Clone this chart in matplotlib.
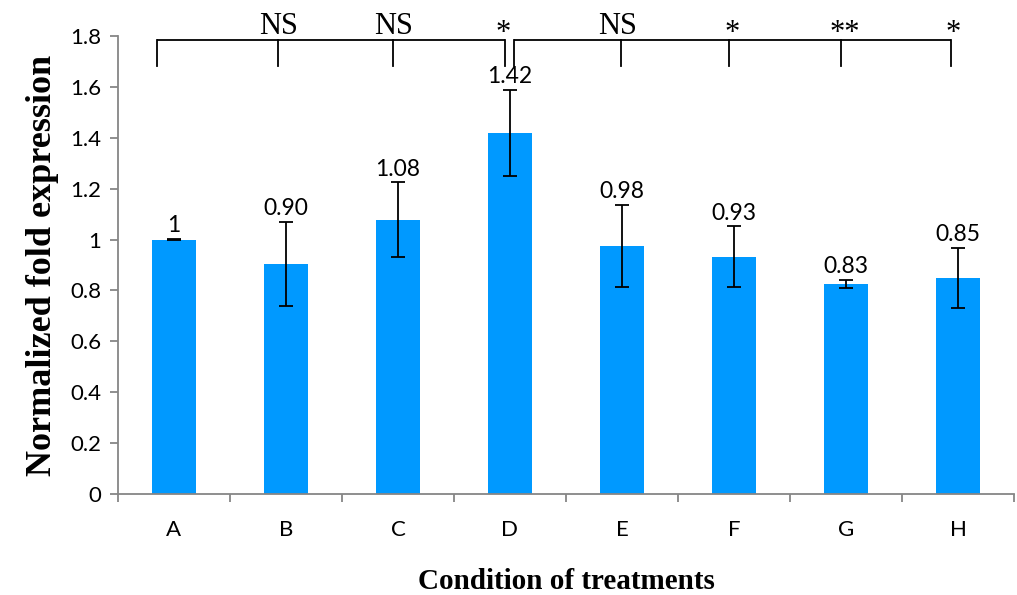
from matplotlib import pyplot as plt
import numpy as np

# data
conditions = ["A", "B", "C", "D", "E", "F", "G", "H"]
fold = [1.00, 0.904, 1.078, 1.419, 0.975, 0.932, 0.825, 0.848]
err = [0.003, 0.167, 0.147, 0.170, 0.160, 0.120, 0.017, 0.118]
value_labels = ["1", "0.90", "1.08", "1.42", "0.98", "0.93", "0.83", "0.85"]
signif = ["", "NS", "NS", "*", "NS", "*", "**", "*"]

x = np.arange(len(conditions))

fig = plt.figure(figsize=(10.17, 5.95), dpi=100)
ax = fig.add_axes([0.116, 0.1697, 0.881, 0.7698])

ax.bar(x, fold, width=0.4, color='#0099FF', zorder=2)
ax.errorbar(x, fold, yerr=err, fmt='none', ecolor='black', elinewidth=1.3,
            capsize=4.7, capthick=1.3, zorder=3)

# value labels just above the error bars
for i in range(len(x)):
    ax.annotate(value_labels[i], (x[i], fold[i] + err[i]), xytext=(0, 2),
                textcoords='offset points', ha='center', va='bottom',
                fontsize=16.5, family='Lato')

# significance brackets (left group ends at D, right group starts at D)
bracket_y = 1.785
tick_y = 1.683
left_ticks = [-0.15, 0.93, 1.96, 2.955]
right_ticks = [3.035, 3.99, 4.96, 5.96, 6.94]
for ticks in [left_ticks, right_ticks]:
    ax.plot([ticks[0], ticks[-1]], [bracket_y, bracket_y], color='black', lw=1.3,
            clip_on=False, solid_capstyle='butt')
    for t in ticks:
        ax.plot([t, t], [tick_y, bracket_y], color='black', lw=1.3, clip_on=False)

label_x = [0.93, 1.96, 2.94, 3.96, 4.98, 5.99, 6.96]
for lx, s in zip(label_x, signif[1:]):
    if s == "NS":
        ax.text(lx, 1.806, s, ha='center', va='baseline', fontsize=22,
                family='Liberation Serif', clip_on=False)
    else:
        ax.text(lx, 1.81, s, ha='center', va='center', fontsize=22,
                family='Liberation Serif', clip_on=False)

ax.set_xlim(-0.5, 7.5)
ax.set_ylim(0, 1.8)
ax.set_yticks(np.arange(0, 1.81, 0.2))
ax.set_yticklabels(["0", "0.2", "0.4", "0.6", "0.8", "1", "1.2", "1.4", "1.6", "1.8"],
                   family='Lato', fontsize=16)
ax.set_xticks(x)
ax.set_xticklabels(conditions, family='Lato', fontsize=16)
ax.tick_params(axis='x', length=0, pad=19)
ax.set_xticks(np.arange(-0.5, 7.6, 1), minor=True)
ax.tick_params(axis='x', which='minor', length=6, color='#868686', width=1.3)
ax.tick_params(axis='y', length=6, color='#868686', width=1.3, pad=6)

for side in ['top', 'right']:
    ax.spines[side].set_visible(False)
for side in ['left', 'bottom']:
    ax.spines[side].set_color('#868686')
    ax.spines[side].set_linewidth(1.3)

ax.set_xlabel("Condition of treatments", family='Liberation Serif', fontweight='bold',
              fontsize=21, labelpad=20)
ax.set_ylabel("Normalized fold expression", family='Liberation Serif', fontweight='bold',
              fontsize=26, labelpad=8)

plt.savefig('out.png', dpi=100)
